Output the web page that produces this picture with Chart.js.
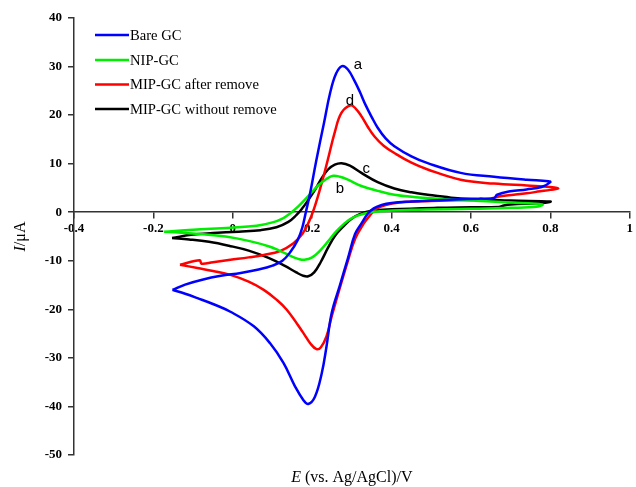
<!DOCTYPE html>
<html>
<head>
<meta charset="utf-8">
<script src="https://cdn.jsdelivr.net/npm/chart.js@4.4.1/dist/chart.umd.min.js"></script>
<style>
  html, body { margin: 0; padding: 0; background: #fff; }
  #wrap { width: 636px; height: 487px; position: relative; }
</style>
</head>
<body>
<div id="wrap"><canvas id="cv"></canvas></div>
<script>
// 曲线数据 (E / V, I / μA)，先正扫再回扫
const bareE = [-0.152, -0.12, -0.077, -0.03, 0.02, 0.065, 0.1, 0.125, 0.145, 0.163, 0.175, 0.184, 0.195, 0.21, 0.23, 0.245, 0.26, 0.275, 0.29, 0.307, 0.32, 0.335, 0.35, 0.365, 0.385, 0.407, 0.45, 0.491, 0.574, 0.658, 0.741, 0.795,
  0.8, 0.778, 0.74, 0.699, 0.666, 0.658, 0.62, 0.56, 0.5, 0.45, 0.4, 0.375, 0.355, 0.34, 0.325, 0.308, 0.29, 0.27, 0.249, 0.236, 0.224, 0.207, 0.19, 0.178, 0.157, 0.128, 0.094, 0.053, -0.006, -0.05, -0.089, -0.12, -0.152];
const bareI = [-16.0, -14.9, -13.9, -13.1, -12.5, -11.8, -11.0, -10.0, -8.2, -5.8, -3.2, 0, 4.0, 10.5, 18.5, 24.5, 28.5, 30.1, 29.4, 27.0, 24.8, 22.0, 19.6, 17.4, 15.2, 13.6, 11.5, 10.1, 8.1, 7.3, 6.7, 6.4,
  6.2, 5.2, 4.7, 4.3, 3.6, 2.9, 2.8, 2.6, 2.4, 2.2, 1.9, 1.5, 0.8, -0.3, -2.2, -4.5, -9.5, -15.0, -20.8, -27.7, -33.2, -38.0, -39.5, -38.7, -35.9, -31.1, -27.0, -23.5, -20.5, -18.9, -17.7, -16.8, -16.0];

const nipE = [-0.173, -0.1, -0.006, 0.06, 0.1, 0.125, 0.145, 0.165, 0.19, 0.215, 0.235, 0.253, 0.27, 0.29, 0.324, 0.365, 0.407, 0.46, 0.515, 0.6, 0.7, 0.78,
  0.77, 0.7, 0.6, 0.45, 0.37, 0.33, 0.3, 0.28, 0.26, 0.24, 0.22, 0.2, 0.18, 0.165, 0.148, 0.12, 0.09, 0.04, -0.018, -0.068, -0.12, -0.173];
const nipI = [-4.0, -3.6, -3.2, -2.8, -2.1, -1.3, -0.2, 1.2, 3.3, 5.5, 6.8, 7.5, 7.3, 6.7, 5.4, 4.4, 3.6, 3.1, 2.8, 2.4, 2.0, 1.6,
  1.2, 0.9, 0.7, 0.5, 0.2, -0.3, -1.2, -2.4, -4.0, -6.0, -7.9, -9.3, -9.8, -9.6, -9.1, -8.0, -7.0, -5.9, -5.0, -4.6, -4.3, -4.0];

const mipE = [-0.133, -0.083, -0.079, -0.05, -0.006, 0.04, 0.078, 0.119, 0.153, 0.175, 0.19, 0.205, 0.224, 0.24, 0.257, 0.274, 0.297, 0.31, 0.324, 0.34, 0.357, 0.38, 0.407, 0.45, 0.491, 0.574, 0.658, 0.741, 0.8, 0.82,
  0.8, 0.774, 0.74, 0.708, 0.674, 0.64, 0.58, 0.5, 0.42, 0.385, 0.36, 0.345, 0.33, 0.308, 0.29, 0.27, 0.249, 0.236, 0.222, 0.211, 0.195, 0.178, 0.136, 0.11, 0.078, 0.04, -0.006, -0.05, -0.089, -0.133];
const mipI = [-10.8, -9.9, -10.6, -10.3, -9.8, -9.3, -8.8, -8.0, -6.4, -4.5, -2.3, 0.8, 6.0, 11.0, 16.5, 20.5, 22.0, 21.3, 19.8, 17.6, 15.6, 13.7, 12.2, 10.2, 8.8, 6.7, 5.9, 5.5, 5.2, 4.9,
  4.6, 4.3, 3.9, 3.6, 3.3, 2.7, 2.5, 2.3, 2.0, 1.5, 0.6, -0.7, -2.3, -5.5, -10.0, -15.5, -21.5, -25.6, -27.8, -28.2, -27.0, -24.9, -20.1, -18.0, -16.0, -14.3, -12.9, -12.1, -11.5, -10.8];

const mipwE = [-0.153, -0.1, -0.05, 0.015, 0.07, 0.11, 0.14, 0.16, 0.175, 0.19, 0.207, 0.224, 0.24, 0.257, 0.274, 0.295, 0.324, 0.365, 0.407, 0.45, 0.491, 0.55, 0.6, 0.7, 0.8,
  0.78, 0.7, 0.683, 0.67, 0.6, 0.515, 0.4, 0.35, 0.32, 0.3, 0.28, 0.258, 0.24, 0.222, 0.205, 0.19, 0.175, 0.16, 0.13, 0.09, 0.04, -0.01, -0.06, -0.11, -0.153];
const mipwI = [-5.3, -4.6, -4.3, -4.0, -3.7, -3.1, -2.0, -0.6, 0.8, 2.5, 4.6, 7.0, 8.8, 9.8, 10.1, 9.6, 8.1, 6.2, 4.9, 4.1, 3.6, 3.0, 2.7, 2.4, 2.2,
  1.9, 1.6, 1.4, 1.1, 1.0, 0.9, 0.6, 0.3, -0.4, -1.3, -2.8, -4.8, -7.3, -10.2, -12.4, -13.2, -13.0, -12.4, -11.0, -9.4, -7.9, -6.9, -6.1, -5.6, -5.3];

const seriesNames = ['Bare GC', 'NIP-GC', 'MIP-GC after remove', 'MIP-GC without remove'];
const seriesColors = ['#0000ff', '#00ee00', '#ff0000', '#000000'];
const curveLetters = ['a', 'b', 'd', 'c'];
const letterPos = [[0.315, 30.4], [0.27, 4.8], [0.295, 23.0], [0.336, 8.9]];

const toPoints = (xs, ys) => xs.map((x, i) => ({ x, y: ys[i] }));

const serif = '"Liberation Serif", "Times New Roman", serif';

// 图例、曲线字母、坐标轴标题
const annotate = {
    id: 'annotate',
    afterDraw(chart) {
        const ctx = chart.ctx;
        const xs = chart.scales.x, ys = chart.scales.y;
        ctx.save();

        // 图例
        ctx.font = '14.6px ' + serif;
        ctx.textBaseline = 'middle';
        ctx.textAlign = 'left';
        const rows = [35, 60, 84.5, 109];
        seriesNames.forEach((name, i) => {
            ctx.strokeStyle = seriesColors[i];
            ctx.lineWidth = 2.5;
            ctx.beginPath();
            ctx.moveTo(95, rows[i]);
            ctx.lineTo(129, rows[i]);
            ctx.stroke();
            ctx.fillStyle = '#000';
            ctx.fillText(name, 130, rows[i] + 1);
        });

        // 曲线字母
        ctx.font = '15px "Liberation Sans", Arial, sans-serif';
        ctx.textAlign = 'center';
        curveLetters.forEach((l, i) => {
            ctx.fillText(l, xs.getPixelForValue(letterPos[i][0]), ys.getPixelForValue(letterPos[i][1]));
        });

        // x轴标题
        const xParts = [['italic 16px ', 'E'], ['16px ', ' (vs. Ag/AgCl)/V']];
        let w = 0;
        xParts.forEach(p => { ctx.font = p[0] + serif; w += ctx.measureText(p[1]).width; });
        let cx = (chart.chartArea.left + chart.chartArea.right) / 2 - w / 2;
        ctx.textAlign = 'left';
        xParts.forEach(p => {
            ctx.font = p[0] + serif;
            ctx.fillText(p[1], cx, 478);
            cx += ctx.measureText(p[1]).width;
        });

        // y轴标题
        const yParts = [['italic 16px ', 'I'], ['16px ', '/μA']];
        w = 0;
        yParts.forEach(p => { ctx.font = p[0] + serif; w += ctx.measureText(p[1]).width; });
        ctx.translate(21, (chart.chartArea.top + chart.chartArea.bottom) / 2);
        ctx.rotate(-Math.PI / 2);
        let cy = -w / 2;
        yParts.forEach(p => {
            ctx.font = p[0] + serif;
            ctx.fillText(p[1], cy, 0);
            cy += ctx.measureText(p[1]).width;
        });
        ctx.restore();
    }
};

const tickFont = { family: serif, size: 13, weight: 'bold' };

new Chart(document.getElementById('cv'), {
    type: 'scatter',
    data: {
        datasets: [
            { label: seriesNames[0], data: toPoints(bareE, bareI), borderColor: seriesColors[0] },
            { label: seriesNames[1], data: toPoints(nipE, nipI), borderColor: seriesColors[1] },
            { label: seriesNames[2], data: toPoints(mipE, mipI), borderColor: seriesColors[2] },
            { label: seriesNames[3], data: toPoints(mipwE, mipwI), borderColor: seriesColors[3] }
        ].map(d => Object.assign(d, {
            showLine: true,
            pointRadius: 0,
            borderWidth: 2.5,
            tension: 0.4,
            fill: false
        }))
    },
    options: {
        responsive: true,
        maintainAspectRatio: false,
        animation: false,
        layout: { padding: { left: 0, top: 18, right: 3, bottom: 32 } },
        plugins: {
            legend: { display: false },
            tooltip: { enabled: false }
        },
        scales: {
            x: {
                type: 'linear',
                min: -0.4,
                max: 1,
                position: { y: 0 },
                border: { color: '#333', width: 1.5 },
                grid: { drawOnChartArea: false, tickLength: 6, color: '#333', lineWidth: 1.5 },
                ticks: {
                    stepSize: 0.2,
                    padding: 3,
                    color: '#000',
                    font: tickFont,
                    callback: v => String(Math.round(v * 10) / 10)
                }
            },
            y: {
                min: -50,
                max: 40,
                position: 'left',
                border: { color: '#333', width: 1.5 },
                grid: { drawOnChartArea: false, tickLength: 6, color: '#333', lineWidth: 1.5 },
                ticks: {
                    stepSize: 10,
                    padding: 6,
                    color: '#000',
                    font: tickFont
                },
                afterFit(scale) { scale.width = 74; }
            }
        }
    },
    plugins: [annotate]
});
</script>
</body>
</html>
